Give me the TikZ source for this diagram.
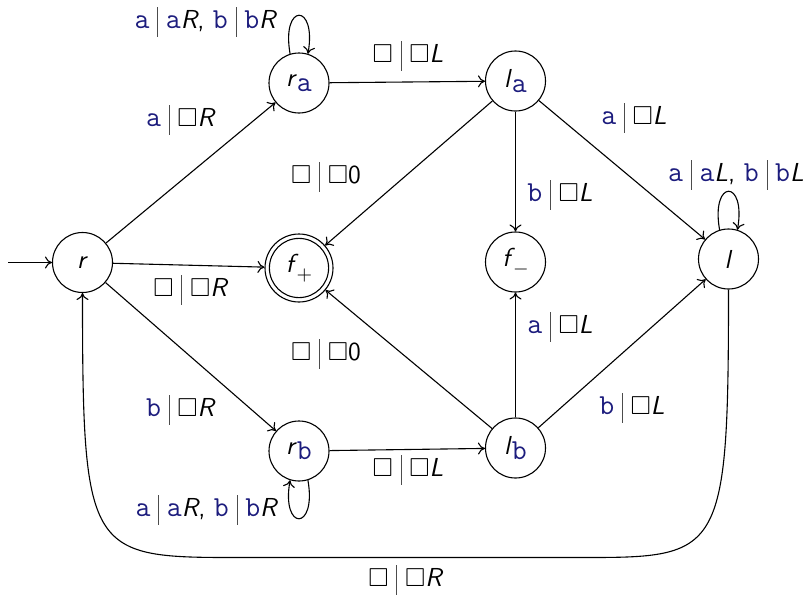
\documentclass[tikz,border=0pt]{standalone}
\usepackage{amssymb}
\usetikzlibrary{arrows.meta}
\definecolor{tmblue}{RGB}{28,28,125}
\newcommand{\sy}[1]{\textcolor{tmblue}{\fontsize{14.5}{15}\selectfont\texttt{#1}}}
\newcommand{\bk}{\ensuremath{\square}}
\newcommand{\br}{\hspace{0.3em}\textcolor{black!70}{\rule[-0.3em]{0.45pt}{1.12em}}\hspace{0.3em}}
\newcommand{\sbsc}[1]{\raisebox{-0.45ex}{#1}}
\newcommand{\smsub}[1]{\hspace{-0.08em}\raisebox{-0.65ex}{\fontsize{10}{10}\selectfont #1}}
\tikzset{
  state/.style={circle,draw,line width=0.55pt,minimum size=30pt,inner sep=0pt,
    font=\fontsize{13}{15}\selectfont\sffamily},
  accept/.style={state,minimum size=34pt},
  lab/.style={inner sep=0pt,font=\fontsize{13}{15}\selectfont\sffamily},
  edge/.style={line width=0.55pt,-{To[length=3.5pt,width=6pt]}}
}
\begin{document}
\begin{tikzpicture}[x=0.5pt,y=-0.5pt]
\useasboundingbox (0,0) rectangle (808,595);
% states
\node[state] (r)  at (82.5,262.5)  {\textit{r}};
\node[state] (ra) at (299,83)  {\textit{r}\sbsc{\sy{a}}};
\node[state] (la) at (515.5,81)  {\textit{l}\sbsc{\sy{a}}};
\node[accept] (fp) at (299,268) {\textit{f}\smsub{$+$}};
\draw[line width=0.55pt] (fp.center) circle (14.8pt);
\node[state] (fm) at (515.5,262) {\textit{f}\smsub{$-$}};
\node[state] (l)  at (728.5,259) {\textit{l}};
\node[state] (rb) at (299,451) {\textit{r}\sbsc{\sy{b}}};
\node[state] (lb) at (515.5,448) {\textit{l}\sbsc{\sy{b}}};
\coordinate (start) at (8,262.5);
\coordinate (c1) at (590,557.5);
\coordinate (c2) at (230,557.5);
% edges
\draw[edge] (start) -- (r);
\draw[edge] (r) -- (ra);
\draw[edge] (r) -- (fp);
\draw[edge] (r) -- (rb);
\draw[edge] (ra) -- (la);
\draw[edge] (la) -- (fp);
\draw[edge] (la) -- (fm);
\draw[edge] (la) -- (l);
\draw[edge] (rb) -- (lb);
\draw[edge] (lb) -- (fp);
\draw[edge] (lb) -- (fm);
\draw[edge] (lb) -- (l);
\draw[edge] (ra.107) .. controls +(100:26pt) and +(80:26pt) .. (ra.73);
\draw[edge] (l.107) .. controls +(100:26pt) and +(80:26pt) .. (l.73);
\draw[edge] (rb.-73) .. controls +(-80:26pt) and +(-100:26pt) .. (rb.-107);
\draw[edge] (l.south) .. controls (728.5,550) and (722,557.5) .. (c1) -- (c2)
  .. controls (88,557.5) and (82.5,550) .. (r.south);
% labels
\node[lab] (t1)  at (181,120) {\sy{a}\br\bk\textit{R}};
\node[lab] (t2)  at (191,290) {\bk\br\bk\textit{R}};
\node[lab] (t3)  at (181,410) {\sy{b}\br\bk\textit{R}};
\node[lab] (t4)  at (206,22)  {\sy{a}\br\sy{a}\textit{R}, \sy{b}\br\sy{b}\textit{R}};
\node[lab] (t5)  at (408,56)  {\bk\br\bk\textit{L}};
\node[lab] (t6)  at (326,177) {\bk\br\bk 0};
\node[lab] (t7)  at (560,195) {\sy{b}\br\bk\textit{L}};
\node[lab] (t8)  at (634,118) {\sy{a}\br\bk\textit{L}};
\node[lab] (t9)  at (736,175) {\sy{a}\br\sy{a}\textit{L}, \sy{b}\br\sy{b}\textit{L}};
\node[lab] (t10) at (326,354) {\bk\br\bk 0};
\node[lab] (t11) at (560,327) {\sy{a}\br\bk\textit{L}};
\node[lab] (t12) at (632,408) {\sy{b}\br\bk\textit{L}};
\node[lab] (t13) at (408,470) {\bk\br\bk\textit{L}};
\node[lab] (t14) at (207,510) {\sy{a}\br\sy{a}\textit{R}, \sy{b}\br\sy{b}\textit{R}};
\node[lab] (t15) at (406,580) {\bk\br\bk\textit{R}};
\end{tikzpicture}
\end{document}
